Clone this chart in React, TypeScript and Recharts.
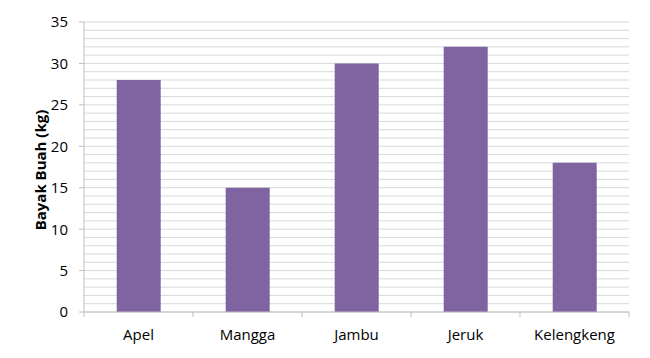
import React from "react";
import { BarChart, Bar, XAxis, YAxis, CartesianGrid, Label } from "recharts";

const categories = ["Apel", "Mangga", "Jambu", "Jeruk", "Kelengkeng"];
const values = [28, 15, 30, 32, 18];
const yLabelTicks = [0, 5, 10, 15, 20, 25, 30, 35];
const yGridTicks = [
    0, 1, 2, 3, 4, 5, 6, 7, 8, 9, 10, 11, 12, 13, 14, 15, 16, 17,
    18, 19, 20, 21, 22, 23, 24, 25, 26, 27, 28, 29, 30, 31, 32, 33, 34, 35,
];

const FONT = "'Open Sans', 'Liberation Sans', sans-serif";
const AXIS_COLOR = "#bfbfbf";

const data = categories.map((name, i) => ({ name, value: values[i] }));

function YTick(props: any) {
    const { x, y, payload } = props;
    if (!yLabelTicks.includes(payload.value)) return null;
    return (
        <g>
            <line x1={x - 5} x2={x} y1={y} y2={y} stroke={AXIS_COLOR} />
            <text x={x - 16} y={y} dy="0.36em" textAnchor="end" fontSize={15} fontFamily={FONT} fill="#000">
                {payload.value}
            </text>
        </g>
    );
}

function XTick(props: any) {
    const { x, y, payload, index, visibleTicksCount, width } = props;
    const half = payload.offset || width / visibleTicksCount / 2;
    return (
        <g>
            <line x1={x - half} x2={x - half} y1={y} y2={y + 5} stroke={AXIS_COLOR} />
            {index === visibleTicksCount - 1 && (
                <line x1={x + half} x2={x + half} y1={y} y2={y + 5} stroke={AXIS_COLOR} />
            )}
            <text x={x} y={y + 28} textAnchor="middle" fontSize={15} fontFamily={FONT} fill="#000">
                {payload.value}
            </text>
        </g>
    );
}

function YLabel(props: any) {
    const { viewBox } = props;
    const cx = viewBox.x + viewBox.width / 2 - 2;
    const cy = viewBox.y + viewBox.height / 2 + 3;
    return (
        <text
            x={cx}
            y={cy}
            transform={`rotate(-90, ${cx}, ${cy})`}
            textAnchor="middle"
            dominantBaseline="central"
            fontSize={15}
            fontWeight={700}
            fontFamily={FONT}
            fill="#000"
        >
            Bayak Buah (kg)
        </text>
    );
}

export default function App() {
    return (
        <div style={{ position: "absolute", left: 0, top: 0, width: 650, height: 358, background: "#fff" }}>
            <BarChart
                width={650}
                height={358}
                data={data}
                margin={{ top: 22, right: 21, bottom: 0, left: 0 }}
                barCategoryGap="30%"
            >
                <CartesianGrid vertical={false} stroke="#d9d9d9" />
                <XAxis
                    dataKey="name"
                    height={46}
                    stroke={AXIS_COLOR}
                    tickLine={false}
                    tickSize={0}
                    tickMargin={0}
                    tick={<XTick />}
                    interval={0}
                />
                <YAxis
                    width={84}
                    domain={[0, 35]}
                    ticks={yGridTicks}
                    interval={0}
                    stroke={AXIS_COLOR}
                    tickLine={false}
                    tickSize={0}
                    tickMargin={0}
                    tick={<YTick />}
                >
                    <Label content={<YLabel />} />
                </YAxis>
                <Bar dataKey="value" fill="#8064a2" isAnimationActive={false} />
            </BarChart>
        </div>
    );
}
